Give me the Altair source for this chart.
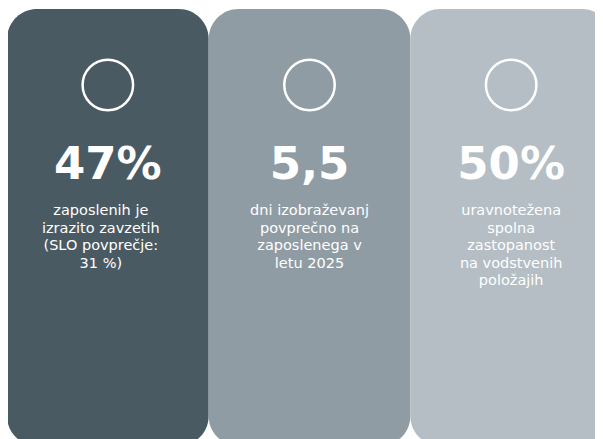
import altair as alt
import pandas as pd

categories = ["zavzetost", "izobrazevanje", "vodstvo"]
big_values = ["47%", "5,5", "50%"]
descriptions = [
    ["zaposlenih je", "izrazito zavzetih", "(SLO povprečje:", "31 %)"],
    ["dni izobraževanj", "povprečno na", "zaposlenega v", "letu 2025"],
    ["uravnotežena", "spolna", "zastopanost", "na vodstvenih", "položajih"],
]
card_colors = ["#4A5A62", "#8F9CA4", "#B4BEC4"]

df = pd.DataFrame({
    "cat": categories,
    "value": big_values,
    "desc": ["\n".join(d) for d in descriptions],
})

xenc = alt.X("cat:N", sort=categories, axis=None,
             scale=alt.Scale(range=[-1, 604], paddingInner=0, paddingOuter=0))
xc = alt.X("cat:N", sort=categories, axis=None, bandPosition=0.5)
color = alt.Color("cat:N", sort=categories, legend=None,
                  scale=alt.Scale(domain=categories, range=card_colors))

base = alt.Chart(df)

cards = base.mark_bar(cornerRadius=30).encode(
    x=xenc, y=alt.value(1), y2=alt.value(438), color=color
)

circles = base.mark_point(shape="circle", size=2550, filled=False,
                          color="white", strokeWidth=2.5, opacity=1).encode(
    x=xc, y=alt.value(77)
)

numbers = base.mark_text(font="DejaVu Sans", fontWeight="bold", fontSize=45,
                         color="white", baseline="alphabetic", align="center").encode(
    x=xc, y=alt.value(171), text="value:N"
)

text_style = dict(font="DejaVu Sans", fontSize=14.5, color="white",
                  baseline="alphabetic", align="center",
                  lineBreak="\n", lineHeight=17.5)

texts_first = base.transform_filter(
    alt.datum.cat == categories[0]
).mark_text(dx=-7, **text_style).encode(
    x=xc, y=alt.value(207), text="desc:N"
)

texts_rest = base.transform_filter(
    alt.datum.cat != categories[0]
).mark_text(**text_style).encode(
    x=xc, y=alt.value(207), text="desc:N"
)

chart = alt.layer(cards, circles, numbers, texts_first, texts_rest).properties(
    width=587, height=431, padding=0, autosize=alt.AutoSizeParams(type="none"),
    background="white"
).configure_view(stroke=None)

chart.save("out.html", embed_options={"renderer": "svg", "actions": False})
